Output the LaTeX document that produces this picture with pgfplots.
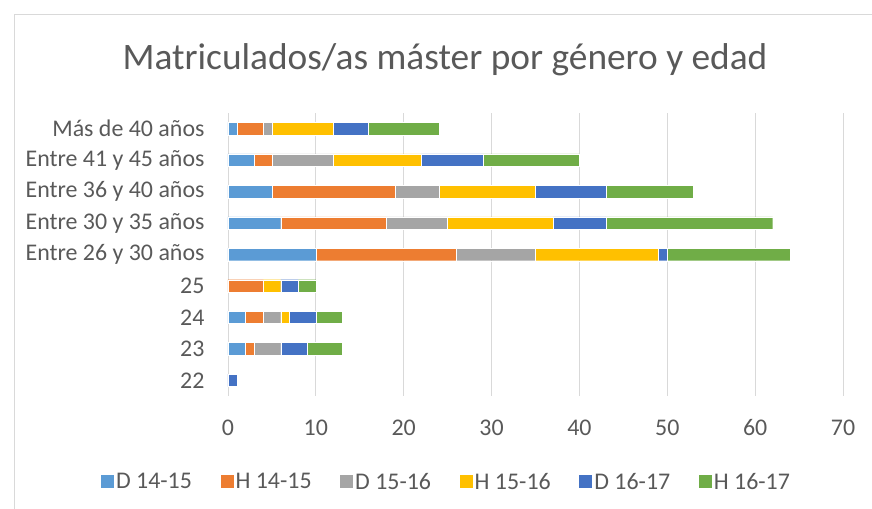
\documentclass[border=0pt]{standalone}
\usepackage{pgfplots}
\pgfplotsset{compat=1.18}
\usepackage{fontspec}
\setmainfont{Carlito}
\definecolor{cA}{HTML}{5B9BD5}
\definecolor{cB}{HTML}{ED7D31}
\definecolor{cC}{HTML}{A5A5A5}
\definecolor{cD}{HTML}{FFC000}
\definecolor{cE}{HTML}{4472C4}
\definecolor{cF}{HTML}{70AD47}
\definecolor{txt}{HTML}{595959}
\definecolor{grd}{HTML}{D9D9D9}
\begin{document}
\begin{tikzpicture}[x=1bp,y=1bp]
\path[use as bounding box] (-228,-113) rectangle (644,396);
\draw[grd, line width=0.8bp] (-214,-130) -- (-214,382) -- (660,382);
\begin{axis}[
  at={(0,0)}, anchor=south west,
  scale only axis, width=615bp, height=283bp,
  xbar stacked, bar width=12.5bp,
  xmin=0, xmax=70, ymin=-0.5, ymax=8.5,
  xtick={0,10,...,70},
  ytick={0,...,8},
  yticklabels={22,23,24,25,Entre 26 y 30 años,Entre 30 y 35 años,Entre 36 y 40 años,Entre 41 y 45 años,Más de 40 años},
  xmajorgrids, grid style={grd, line width=0.9bp},
  axis line style={draw=none}, major tick style={draw=none},
  /pgf/number format/assume math mode=true,
  ticklabel style={font=\fontsize{24}{26}\selectfont, text=txt},
  xticklabel shift=20bp, yticklabel shift=20bp,
  every axis plot/.append style={draw=white, line width=0.3bp},
  legend columns=6,
  legend style={at={(218.5bp,-86bp)}, anchor=center, draw=none, font=\fontsize{24}{26}\selectfont, text=txt,
    /tikz/every even column/.append style={column sep=26.6bp}},
  legend image code/.code={\fill[#1, draw=none] (-3bp,-6.5bp) rectangle (10bp,6.5bp);},
  legend cell align=left,
]
\addplot[fill=cA] coordinates {(0,0) (2,1) (2,2) (0,3) (10,4) (6,5) (5,6) (3,7) (1,8)};
\addplot[fill=cB] coordinates {(0,0) (1,1) (2,2) (4,3) (16,4) (12,5) (14,6) (2,7) (3,8)};
\addplot[fill=cC] coordinates {(0,0) (3,1) (2,2) (0,3) (9,4) (7,5) (5,6) (7,7) (1,8)};
\addplot[fill=cD] coordinates {(0,0) (0,1) (1,2) (2,3) (14,4) (12,5) (11,6) (10,7) (7,8)};
\addplot[fill=cE] coordinates {(1,0) (3,1) (3,2) (2,3) (1,4) (6,5) (8,6) (7,7) (4,8)};
\addplot[fill=cF] coordinates {(0,0) (4,1) (3,2) (2,3) (14,4) (19,5) (10,6) (11,7) (8,8)};
\legend{D 14-15,H 14-15,D 15-16,H 15-16,D 16-17,H 16-17}
\end{axis}
\node[text=txt, font=\fontsize{37.5}{40}\selectfont] at (217,336) {Matriculados/as máster por género y edad};
\end{tikzpicture}
\end{document}
